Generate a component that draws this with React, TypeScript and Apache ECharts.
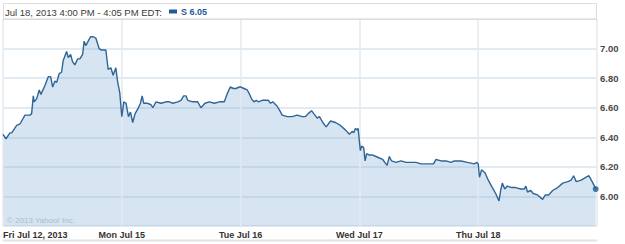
import React, { useEffect, useRef } from "react";
import * as echarts from "echarts";

const headerText = "Jul 18, 2013 4:00 PM - 4:05 PM EDT:";
const seriesName = "S";
const copyright = "© 2013 Yahoo! Inc.";
const dayLabels = ["Fri Jul 12, 2013", "Mon Jul 15", "Tue Jul 16", "Wed Jul 17", "Thu Jul 18"];

// time in trading-day units (0 = Fri open, 5 = Thu close)
const times0 = [0, 0.025, 0.059, 0.073, 0.115, 0.143, 0.185, 0.227, 0.241, 0.255, 0.263, 0.283, 0.305, 0.319, 0.353, 0.381, 0.401, 0.418, 0.437, 0.451, 0.473, 0.493, 0.507, 0.535, 0.549, 0.569, 0.586, 0.605, 0.628, 0.647, 0.67, 0.683, 0.697, 0.717, 0.737, 0.759, 0.782, 0.809, 0.829, 0.866, 0.885, 0.908, 0.927, 0.95, 0.964, 0.983];
const prices0 = [6.42, 6.39, 6.43, 6.43, 6.48, 6.49, 6.55, 6.55, 6.56, 6.68, 6.64, 6.66, 6.72, 6.69, 6.75, 6.81, 6.81, 6.74, 6.78, 6.77, 6.83, 6.84, 6.92, 6.98, 6.94, 6.96, 6.91, 6.89, 6.93, 6.93, 6.96, 7.05, 7.02, 7.05, 7.08, 7.08, 7.07, 7.0, 6.99, 6.99, 6.86, 6.87, 6.82, 6.87, 6.78, 6.7];
const times1 = [1.0, 1.017, 1.036, 1.056, 1.073, 1.092, 1.112, 1.134, 1.157, 1.171, 1.185, 1.218, 1.246, 1.261, 1.288, 1.33, 1.372, 1.401, 1.429, 1.471, 1.498, 1.521, 1.54, 1.555, 1.597, 1.639, 1.666, 1.7, 1.737, 1.779, 1.821, 1.863, 1.885, 1.913, 1.941, 1.961, 1.989];
const prices1 = [6.54, 6.64, 6.63, 6.54, 6.57, 6.5, 6.56, 6.59, 6.63, 6.68, 6.63, 6.63, 6.62, 6.6, 6.64, 6.63, 6.64, 6.64, 6.63, 6.64, 6.65, 6.68, 6.68, 6.65, 6.64, 6.64, 6.6, 6.63, 6.64, 6.63, 6.64, 6.64, 6.69, 6.74, 6.73, 6.73, 6.74];
const times2 = [2.0, 2.028, 2.056, 2.076, 2.092, 2.112, 2.132, 2.149, 2.182, 2.233, 2.252, 2.271, 2.308, 2.33, 2.35, 2.392, 2.434, 2.476, 2.518, 2.546, 2.569, 2.597, 2.616, 2.645, 2.664, 2.692, 2.721, 2.757, 2.799, 2.84, 2.882, 2.916, 2.939, 2.952, 2.966, 2.981, 2.989];
const prices2 = [6.74, 6.73, 6.72, 6.69, 6.66, 6.64, 6.65, 6.64, 6.65, 6.65, 6.63, 6.64, 6.61, 6.58, 6.55, 6.54, 6.54, 6.55, 6.54, 6.54, 6.56, 6.58, 6.56, 6.53, 6.54, 6.5, 6.47, 6.51, 6.5, 6.48, 6.45, 6.42, 6.44, 6.43, 6.46, 6.45, 6.46];
const times3 = [3.008, 3.019, 3.036, 3.048, 3.061, 3.084, 3.112, 3.14, 3.168, 3.196, 3.233, 3.252, 3.271, 3.308, 3.35, 3.392, 3.434, 3.476, 3.518, 3.574, 3.624, 3.645, 3.687, 3.729, 3.771, 3.798, 3.855, 3.91, 3.966, 3.989];
const prices3 = [6.31, 6.34, 6.33, 6.24, 6.29, 6.28, 6.28, 6.27, 6.26, 6.25, 6.21, 6.27, 6.24, 6.23, 6.24, 6.23, 6.23, 6.23, 6.22, 6.22, 6.22, 6.25, 6.24, 6.24, 6.23, 6.24, 6.24, 6.23, 6.22, 6.23];
const times4 = [4.0, 4.011, 4.028, 4.057, 4.085, 4.119, 4.147, 4.175, 4.189, 4.203, 4.223, 4.246, 4.282, 4.316, 4.358, 4.387, 4.401, 4.415, 4.443, 4.463, 4.5, 4.542, 4.565, 4.593, 4.627, 4.669, 4.712, 4.754, 4.782, 4.803, 4.825, 4.867, 4.909, 4.932, 4.966, 4.989];
const prices4 = [6.22, 6.13, 6.18, 6.16, 6.11, 6.06, 6.02, 5.97, 6.04, 6.09, 6.05, 6.07, 6.06, 6.06, 6.05, 6.05, 6.07, 6.03, 6.04, 6.02, 6.01, 5.98, 6.01, 6.01, 6.04, 6.06, 6.09, 6.1, 6.11, 6.14, 6.1, 6.11, 6.13, 6.14, 6.09, 6.05];

const yTicks = [6.0, 6.2, 6.4, 6.6, 6.8, 7.0];

export default function App() {
  const ref = useRef<HTMLDivElement>(null);
  useEffect(() => {
    if (!ref.current) return;
    const chart = echarts.init(ref.current, null, { renderer: "svg" });
    const times = [...times0, ...times1, ...times2, ...times3, ...times4];
    const prices = [...prices0, ...prices1, ...prices2, ...prices3, ...prices4];
    const data = times.map((t, i) => [t, prices[i]]);
    const last = data[data.length - 1];
    const font = "'Liberation Sans', Arial, sans-serif";
    chart.setOption({
      animation: false,
      title: {
        text: headerText,
        left: 5,
        top: 7,
        padding: 0,
        textStyle: { fontFamily: font, fontSize: 9.5, fontWeight: "normal", color: "#3a3a3a" },
      },
      legend: {
        data: [seriesName],
        left: 169,
        top: 7,
        padding: 0,
        icon: "rect",
        itemWidth: 8,
        itemHeight: 4,
        itemGap: 4,
        formatter: () => `${seriesName} ${prices4[prices4.length - 1].toFixed(2)}`,
        textStyle: { fontFamily: font, fontSize: 9, fontWeight: "bold", color: "#1f5b99", padding: [0, 0, 0, -1] },
      },
      grid: { left: 3, right: 28, top: 19, bottom: 18, containLabel: false },
      xAxis: {
        type: "value",
        min: 0,
        max: 5,
        interval: 1,
        z: 2,
        axisLine: { show: false },
        axisTick: { show: false },
        axisLabel: {
          margin: 4,
          alignMinLabel: "left",
          fontFamily: font,
          fontSize: 9,
          fontWeight: "bold",
          color: "#333",
          formatter: (v: number) => dayLabels[Math.round(v)] ?? "",
        },
        splitLine: { show: true, lineStyle: { color: "#e3eaf0", width: 1.5 } },
      },
      yAxis: {
        type: "value",
        position: "right",
        min: 5.8,
        max: 7.2,
        interval: 0.2,
        z: 2,
        axisLine: { show: false },
        axisTick: { show: false },
        axisLabel: {
          margin: 3,
          fontFamily: font,
          fontSize: 9.5,
          fontWeight: "bold",
          color: "#4a4a4a",
          formatter: (v: number) => {
            const hit = yTicks.find((t) => Math.abs(t - v) < 1e-6);
            return hit === undefined ? "" : hit.toFixed(2);
          },
        },
        splitLine: { show: true, lineStyle: { color: "rgba(140,170,200,0.32)", width: 1.5 } },
      },
      series: [
        {
          name: "area",
          type: "line",
          data,
          z: 1,
          symbol: "none",
          lineStyle: { width: 0, opacity: 0 },
          areaStyle: { color: "#d6e5f1", opacity: 1, origin: "start" },
          silent: true,
        },
        {
          name: seriesName,
          type: "line",
          data,
          z: 3,
          symbol: "none",
          color: "#1f5b99",
          lineStyle: { width: 1.4, color: "#2f6596" },
        },
        {
          name: "last",
          type: "scatter",
          data: [last],
          z: 4,
          symbolSize: 6,
          itemStyle: { color: "#1f5b99" },
        },
      ],
      graphic: [
        {
          type: "rect",
          shape: { x: 3.5, y: 3.5, width: 593, height: 16 },
          style: { fill: "none", stroke: "#dcdcdc", lineWidth: 1 },
          z: 10,
        },
        {
          type: "rect",
          shape: { x: 3, y: 239.5, width: 594, height: 2 },
          style: { fill: "#e2e2e2" },
        },
        {
          type: "text",
          x: 7,
          y: 220,
          z: 10,
          style: {
            text: copyright,
            fill: "#a9bccc",
            fontFamily: font,
            fontSize: 8,
            verticalAlign: "middle",
          },
        },
      ],
    });
    return () => chart.dispose();
  }, []);
  return (
    <div
      ref={ref}
      style={{ position: "fixed", left: 0, top: 0, width: 625, height: 244, background: "#fff" }}
    />
  );
}
